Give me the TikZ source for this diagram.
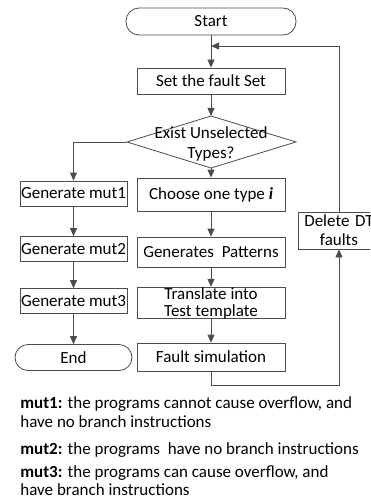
\documentclass[tikz,border=0pt]{standalone}
\usepackage{fontspec}
\setmainfont{Carlito}
\usetikzlibrary{arrows.meta}
\begin{document}
\begin{tikzpicture}[x=1pt,y=-1pt,
  line width=0.8pt,
  lc/.style={draw=black!70},
  arr/.style={lc,-{Triangle[width=7pt,length=8pt]}},
  box/.style={lc,fill=white,inner sep=0pt,align=center,font=\fontsize{17}{19}\selectfont},
  term/.style={box,rounded corners=13pt},
  note/.style={anchor=base west,inner sep=0pt,font=\fontsize{17}{19}\selectfont}]
\useasboundingbox (0,0) rectangle (370,500);
\clip (0,0) rectangle (370,500);
% nodes
\node[term,minimum width=170pt,minimum height=27pt] (start) at (211,21.5) {Start};
\node[box,minimum width=148pt,minimum height=26pt] (set) at (211,81) {Set the fault Set};
\coordinate (dt) at (211,116);
\coordinate (dl) at (127,142);
\coordinate (dr) at (296,142);
\coordinate (db) at (211,168);
\draw[lc] (dt) -- (dr) -- (db) -- (dl) -- cycle;
\node[inner sep=0pt,font=\fontsize{17}{19}\selectfont] (dtxt1) at (211,133) {Exist Unselected};
\node[inner sep=0pt,font=\fontsize{17}{19}\selectfont] (dtxt2) at (211,154) {Types?};
\node[box,minimum width=148pt,minimum height=33pt] (choose) at (211,194.5) {Choose one type \textbf{\textit{i}}};
\node[box,minimum width=148pt,minimum height=30pt] (pat) at (211,252) {Generates\ \ Patterns};
\node[box,minimum width=148pt,minimum height=31pt,font=\fontsize{17}{17}\selectfont] (trans) at (211,303) {Translate into\\Test template};
\node[box,minimum width=148pt,minimum height=28pt] (fault) at (211,357) {Fault simulation};
\node[box,minimum width=107pt,minimum height=25pt] (m1) at (73.5,193.5) {Generate mut1};
\node[box,minimum width=107pt,minimum height=25pt] (m2) at (73.5,249) {Generate mut2};
\node[box,minimum width=107pt,minimum height=25pt] (m3) at (73.5,301) {Generate mut3};
\node[term,minimum width=117pt,minimum height=26pt] (end) at (73.5,357.5) {End};
\node[box,minimum width=82pt,minimum height=37pt,text width=82pt,font=\fontsize{17}{19}\selectfont] (del) at (339,230.5) {Delete DT\\faults};
\coordinate (join) at (211,46);
\coordinate (low) at (211,385);
% connectors
\draw[arr] (start) -- (set);
\draw[arr] (set) -- (dt);
\draw[arr] (db) -- (choose);
\draw[arr] (choose) -- (pat);
\draw[arr] (pat) -- (trans);
\draw[arr] (trans) -- (fault);
\draw[arr] (dl) -| (m1);
\draw[arr] (m1) -- (m2);
\draw[arr] (m2) -- (m3);
\draw[arr] (m3) -- (end);
\draw[arr] (fault) -- (low) -| (del);
\draw[arr] (del) |- (join);
% notes
\node[note] (n1) at (20,408) {\textbf{mut1:} the programs cannot cause overflow, and};
\node[note] (n2) at (20,427) {have no branch instructions};
\node[note] (n3) at (20,454) {\textbf{mut2:} the programs\ \ have no branch instructions};
\node[note] (n4) at (20,477) {\textbf{mut3:} the programs can cause overflow, and};
\node[note] (n5) at (20,495) {have branch instructions};
\end{tikzpicture}
\end{document}
